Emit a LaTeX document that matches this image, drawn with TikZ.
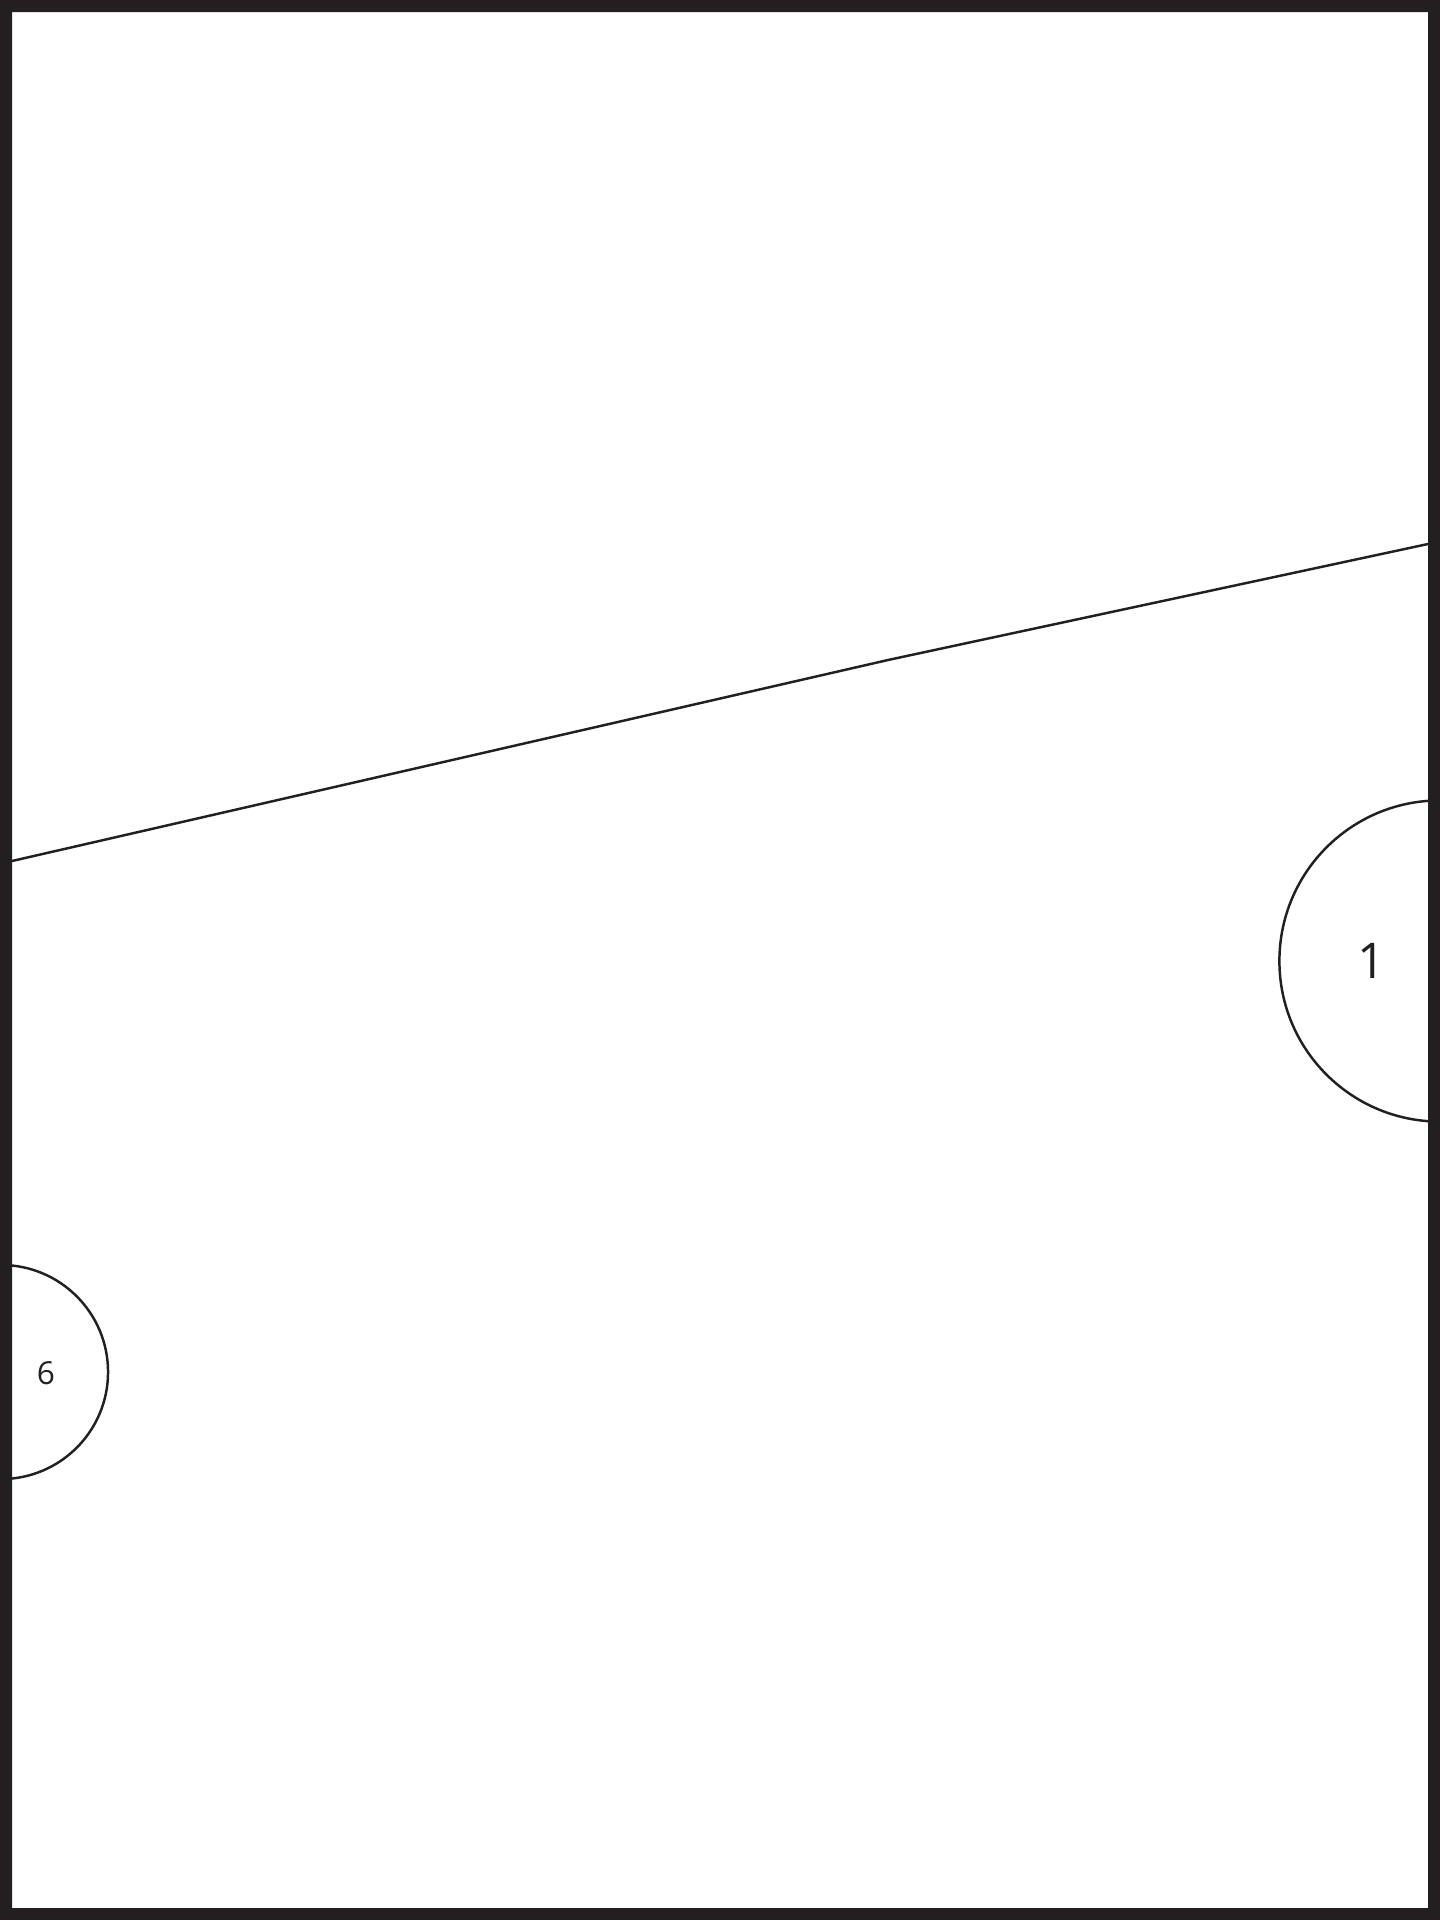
\documentclass[tikz,border=0pt]{standalone}
\usepackage{fontspec}
\setmainfont{Open Sans}
\usepackage{tikz}

\definecolor{inkdark}{HTML}{231F20}

\tikzset{
    seat/.style={circle, draw=inkdark, line width=0.7pt, inner sep=0pt},
    seatnum/.style={text=inkdark, inner sep=0pt}
}

\begin{document}
\begin{tikzpicture}[x=0.01cm, y=-0.01cm]

    % Page frame
    \useasboundingbox (0, 0) rectangle (1440, 1920);

    % Seats cut by the frame
    \node[seat, minimum size=3.21cm] (seatA) at (1440, 961) {};
    \node[seatnum, font=\fontsize{14}{14}\selectfont] (numA) at (1372, 961) {1};

    \node[seat, minimum size=2.14cm] (seatB) at (1, 1372) {};
    \node[seatnum, font=\fontsize{9}{9}\selectfont] (numB) at (46, 1373) {6};

    % Edge line with a bend
    \coordinate (edgeL) at (12, 861);
    \coordinate (edgeM) at (888, 660);
    \coordinate (edgeR) at (1428, 544);
    \draw[inkdark, line width=0.7pt] (edgeL) -- (edgeM) -- (edgeR);

    % Thick frame on top
    \fill[inkdark, even odd rule] (0, 0) rectangle (1440, 1920)
        (12, 12) rectangle (1428, 1908);
\end{tikzpicture}
\end{document}
